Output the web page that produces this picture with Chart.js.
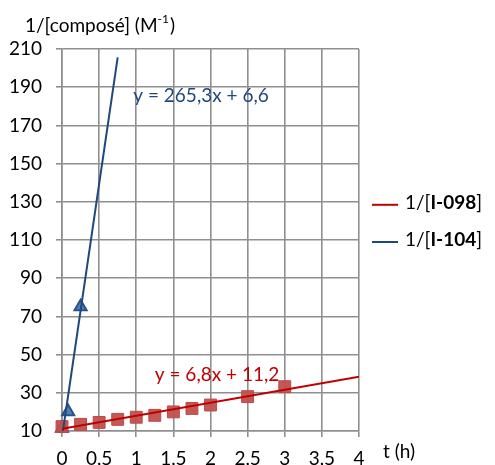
<!DOCTYPE html>
<html>
<head>
<meta charset="utf-8">
<script src="https://cdn.jsdelivr.net/npm/chart.js@4/dist/chart.umd.min.js"></script>
<style>
  html, body { margin: 0; padding: 0; background: #fff; }
  canvas { display: block; }
</style>
</head>
<body>
<canvas id="kineticsChart" width="495" height="465"></canvas>
<script>
// 1/[I-098] measurements (red squares)
var timeI098 = [0, 0.25, 0.5, 0.75, 1, 1.25, 1.5, 1.75, 2, 2.5, 3];
var invI098 = [12.3, 13.5, 14.5, 16.1, 17.2, 18.2, 20.0, 21.8, 23.6, 28.0, 33.2];

// 1/[I-104] measurements (blue triangles)
var timeI104 = [0, 0.083, 0.25];
var invI104 = [11.4, 20.1, 75.0];

// linear trendlines, ends
var trendTimeI098 = [0, 4];
var trendValI098 = [11.2, 38.4];
var trendTimeI104 = [0, 0.75];
var trendValI104 = [6.6, 205.6];

var xTicks = [0, 0.5, 1, 1.5, 2, 2.5, 3, 3.5, 4];
var yTicks = [10, 30, 50, 70, 90, 110, 130, 150, 170, 190, 210];

var FONT = "Lato, 'Open Sans', sans-serif";
var SIZE = 19;
var RED = "#c00000";
var BLUE = "#1f497d";
var GRID = "#8f8f8f";

function toPoints(xs, ys) {
  return xs.map(function (x, i) {
    return { x: x, y: ys[i] };
  });
}

// titles, equations and legend drawn on top of the chart
var textPlugin = {
  id: "textPlugin",
  afterDraw: function (chart) {
    var ctx = chart.ctx;
    var xs = chart.scales.x;
    var ys = chart.scales.y;
    var area = chart.chartArea;
    var f = SIZE + "px " + FONT;
    ctx.save();
    ctx.textBaseline = "middle";
    ctx.textAlign = "left";

    // y axis title with superscript
    ctx.fillStyle = "#000";
    ctx.font = f;
    var t1 = "1/[composé] (M";
    ctx.fillText(t1, 25, 26);
    var w1 = ctx.measureText(t1).width;
    ctx.font = "12px " + FONT;
    ctx.fillText("-1", 25 + w1, 19);
    var w2 = ctx.measureText("-1").width;
    ctx.font = f;
    ctx.fillText(")", 25 + w1 + w2 + 1, 26);

    // x axis title
    ctx.fillText("t (h)", area.right + 24, 452);

    // trendline equations
    ctx.fillStyle = BLUE;
    ctx.fillText("y = 265,3x + 6,6", xs.getPixelForValue(0.96), ys.getPixelForValue(185.5));
    ctx.fillStyle = RED;
    ctx.fillText("y = 6,8x + 11,2", xs.getPixelForValue(1.25), ys.getPixelForValue(39.5));

    // legend
    var rows = [
      { color: RED, name: "I-098", y: ys.getPixelForValue(130) + 3 },
      { color: BLUE, name: "I-104", y: ys.getPixelForValue(110) + 2 }
    ];
    rows.forEach(function (r) {
      ctx.strokeStyle = r.color;
      ctx.lineWidth = 2;
      ctx.beginPath();
      ctx.moveTo(372, r.y);
      ctx.lineTo(398, r.y);
      ctx.stroke();
      ctx.fillStyle = "#000";
      var x = 405;
      ctx.font = f;
      ctx.fillText("1/[", x, r.y - 2);
      x += ctx.measureText("1/[").width;
      ctx.font = "bold " + f;
      ctx.fillText(r.name, x, r.y - 2);
      x += ctx.measureText(r.name).width;
      ctx.font = f;
      ctx.fillText("]", x, r.y - 2);
    });
    ctx.restore();
  }
};

var ctx = document.getElementById("kineticsChart").getContext("2d");
var kineticsChart = new Chart(ctx, {
  type: "scatter",
  data: {
    datasets: [
      {
        label: "Linéaire (1/[I-098])",
        type: "line",
        data: toPoints(trendTimeI098, trendValI098),
        borderColor: RED,
        borderWidth: 2,
        pointRadius: 0,
        fill: false,
        order: 0
      },
      {
        label: "Linéaire (1/[I-104])",
        type: "line",
        data: toPoints(trendTimeI104, trendValI104),
        borderColor: BLUE,
        borderWidth: 2,
        pointRadius: 0,
        fill: false,
        order: 0
      },
      {
        label: "1/[I-098]",
        data: toPoints(timeI098, invI098),
        pointStyle: "rect",
        pointRadius: 8.4,
        backgroundColor: "rgba(192, 80, 77, 0.95)",
        borderColor: "#bb4a47",
        borderWidth: 1,
        clip: false,
        order: 1
      },
      {
        label: "1/[I-104]",
        data: toPoints(timeI104, invI104),
        pointStyle: "triangle",
        pointRadius: 7,
        backgroundColor: "#4f81bd",
        borderColor: "#2c5286",
        borderWidth: 2,
        clip: false,
        order: 1
      }
    ]
  },
  options: {
    responsive: false,
    animation: false,
    layout: { padding: { top: 49, right: 136, left: 0, bottom: 0 } },
    plugins: {
      legend: { display: false },
      tooltip: { enabled: false }
    },
    scales: {
      x: {
        type: "linear",
        min: 0,
        max: 4,
        afterBuildTicks: function (scale) {
          scale.ticks = xTicks.map(function (v) { return { value: v }; });
        },
        afterFit: function (scale) {
          scale.height = 34;
        },
        ticks: {
          color: "#000",
          padding: 10,
          font: { family: FONT, size: SIZE },
          callback: function (v) {
            return String(v).replace(".", ",");
          }
        },
        grid: { color: GRID, lineWidth: 1.6, tickLength: 6 },
        border: { color: GRID, width: 1.6 }
      },
      y: {
        min: 10,
        max: 210,
        afterBuildTicks: function (scale) {
          scale.ticks = yTicks.map(function (v) { return { value: v }; });
        },
        afterFit: function (scale) {
          scale.width = 62;
        },
        ticks: {
          color: "#000",
          padding: 14,
          font: { family: FONT, size: SIZE }
        },
        grid: { color: GRID, lineWidth: 1.6, tickLength: 6 },
        border: { color: GRID, width: 1.6 }
      }
    }
  },
  plugins: [textPlugin]
});
</script>
</body>
</html>
